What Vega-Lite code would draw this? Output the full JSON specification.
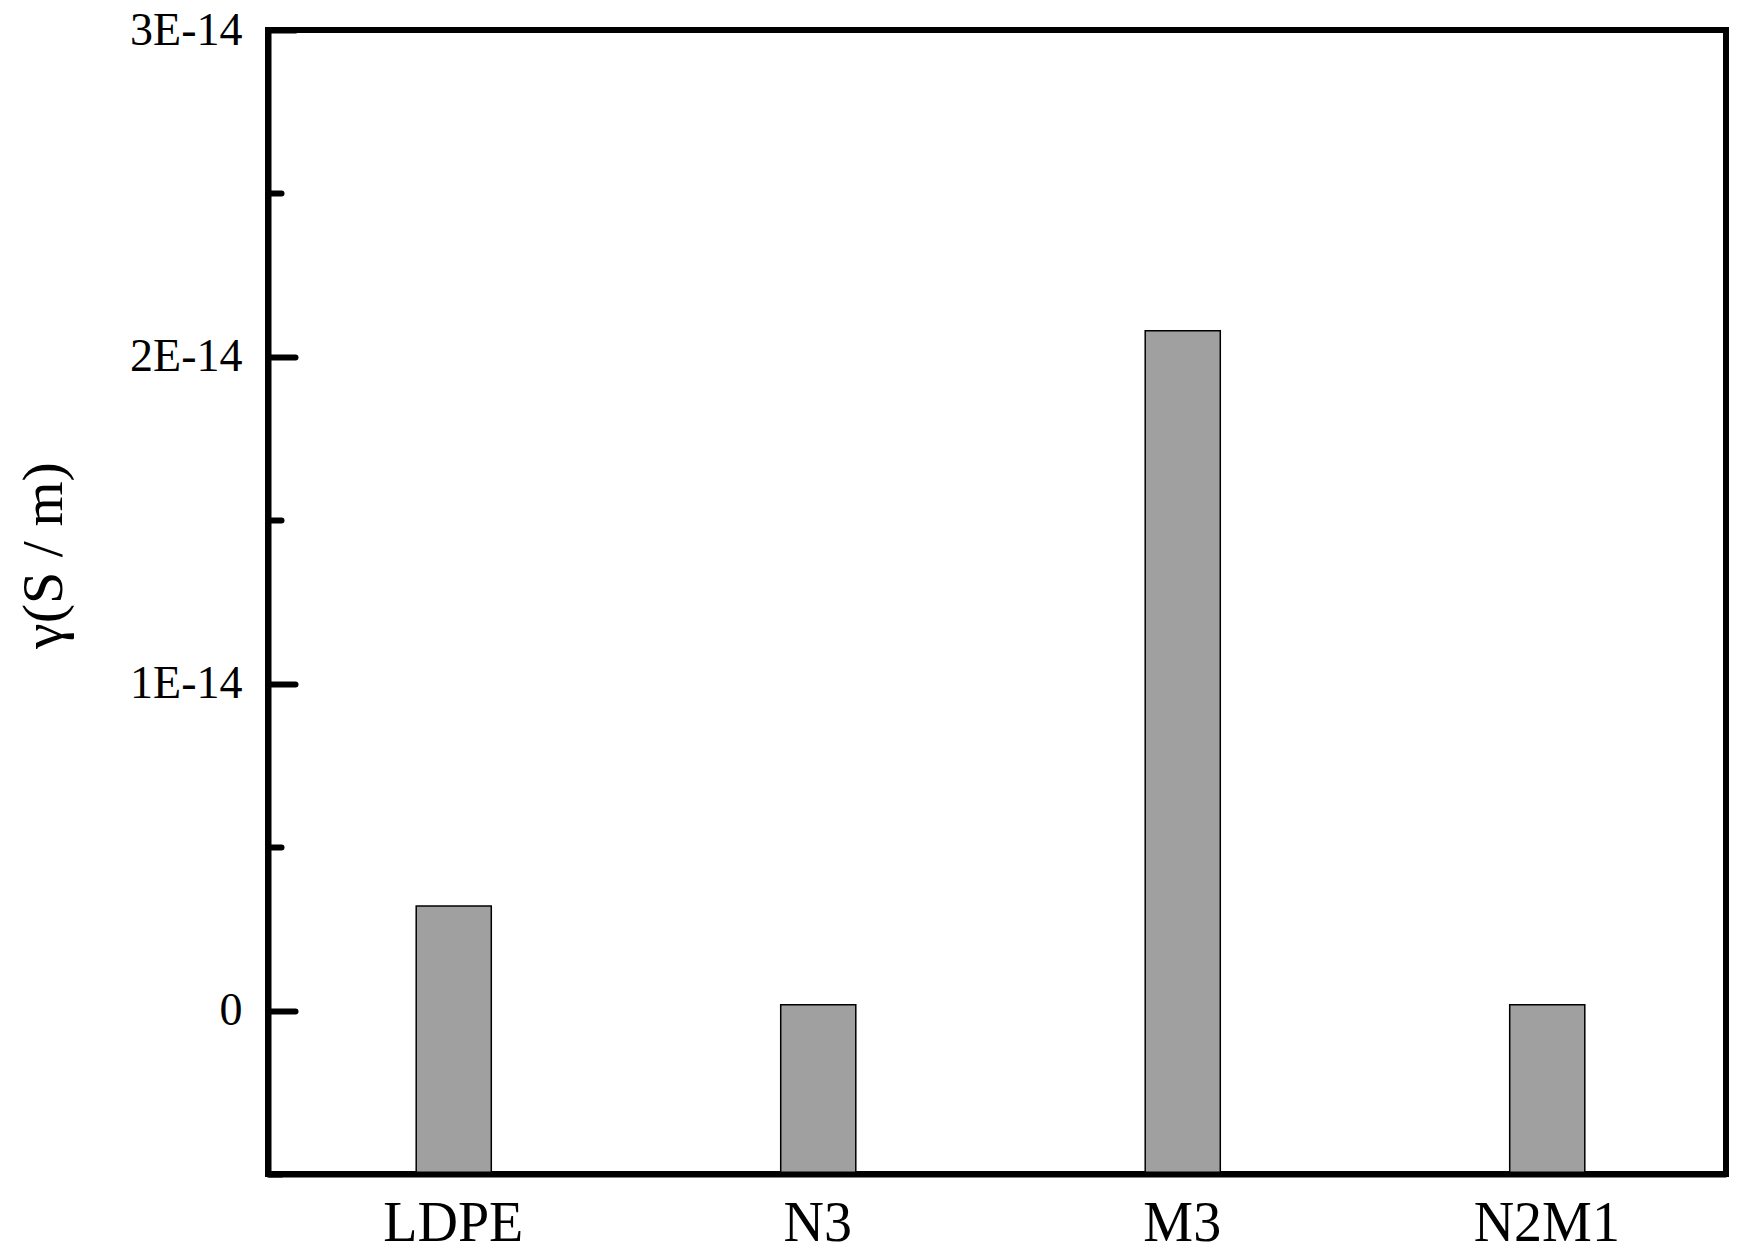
{
  "$schema": "https://vega.github.io/schema/vega-lite/v6.json",
  "width": 1458,
  "height": 1144,
  "autosize": {"type": "none"},
  "padding": {"left": 268, "top": 30, "right": 19, "bottom": 86},
  "background": "white",
  "config": {
    "view": {"stroke": "black", "strokeWidth": 6},
    "font": "Liberation Serif"
  },
  "data": {
    "values": [
      {"sample": "LDPE", "gamma": 3.2e-15},
      {"sample": "N3", "gamma": 1.8e-16},
      {"sample": "M3", "gamma": 2.08e-14},
      {"sample": "N2M1", "gamma": 1.8e-16}
    ]
  },
  "encoding": {
    "x": {
      "field": "sample",
      "type": "nominal",
      "sort": null,
      "scale": {"paddingInner": 0, "paddingOuter": 0},
      "axis": {
        "title": null,
        "labelAngle": 0,
        "ticks": false,
        "domainWidth": 6,
        "domainColor": "black",
        "labelFont": "Liberation Serif",
        "labelFontSize": 56,
        "labelColor": "black",
        "labelBaseline": "alphabetic",
        "labelPadding": 66,
        "labelOffset": 3,
        "zindex": 1
      }
    }
  },
  "layer": [
    {
      "mark": {"type": "bar", "width": {"band": 0.206}, "xOffset": 3.5, "fill": "#a0a0a0", "stroke": "black", "strokeWidth": 1.5},
      "encoding": {
        "y": {
          "field": "gamma",
          "type": "quantitative",
          "scale": {"domain": [-5e-15, 3e-14], "zero": false, "nice": false},
          "axis": {
            "orient": "left",
            "values": [0, 1e-14, 2e-14, 3e-14],
            "labelExpr": "datum.value == 0 ? '0' : format(datum.value * 1e14, 'd') + 'E-14'",
            "grid": false,
            "domainWidth": 6,
            "domainColor": "black",
            "tickSize": -27,
            "tickWidth": 6,
            "tickColor": "black",
            "tickCap": "round",
            "labelFont": "Liberation Serif",
            "labelFontSize": 46,
            "labelColor": "black",
            "labelPadding": 53,
            "labelFlush": false,
            "labelOverlap": false,
            "labelBound": false,
            "title": "γ(S / m)",
            "titleFont": "Liberation Serif",
            "titleFontSize": 58,
            "titleFontWeight": "normal",
            "titleColor": "black",
            "titleAngle": 270,
            "titleAlign": "center",
            "titleBaseline": "middle",
            "titleX": -224,
            "titleY": 525,
            "zindex": 1
          }
        },
        "y2": {"datum": -5e-15}
      }
    },
    {
      "mark": {"type": "point", "opacity": 0},
      "encoding": {
        "y": {
          "field": "gamma",
          "type": "quantitative",
          "axis": {
            "orient": "left",
            "values": [-5e-15, 5e-15, 1.5e-14, 2.5e-14],
            "labels": false,
            "grid": false,
            "domain": false,
            "tickSize": -13,
            "tickWidth": 6,
            "tickColor": "black",
            "tickCap": "round",
            "title": null,
            "zindex": 1
          }
        }
      }
    }
  ],
  "resolve": {"axis": {"y": "independent"}}
}
